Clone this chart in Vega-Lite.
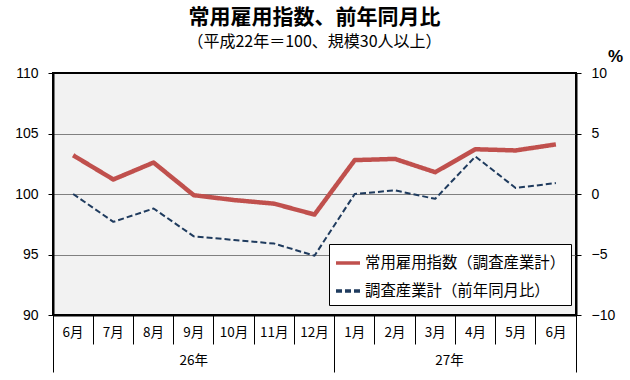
{
  "$schema": "https://vega.github.io/schema/vega-lite/v6.json",
  "autosize": {"type": "none"},
  "padding": {"left": 53, "top": 73, "right": 54, "bottom": 65},
  "width": 523,
  "height": 242,
  "background": "white",
  "title": {
    "text": "常用雇用指数、前年同月比",
    "subtitle": "（平成22年＝100、規模30人以上）",
    "font": "Noto Sans CJK JP",
    "fontSize": 21,
    "fontWeight": "bold",
    "color": "black",
    "subtitleFont": "Noto Sans CJK JP",
    "subtitleFontSize": 16,
    "subtitleColor": "black",
    "subtitlePadding": 6,
    "anchor": "middle",
    "frame": "group",
    "offset": -3
  },
  "data": {
    "values": [
      {"m": "26年6月", "idx": 103.2, "pct": 0.0},
      {"m": "26年7月", "idx": 101.2, "pct": -2.3},
      {"m": "26年8月", "idx": 102.6, "pct": -1.2},
      {"m": "26年9月", "idx": 99.9, "pct": -3.5},
      {"m": "26年10月", "idx": 99.5, "pct": -3.8},
      {"m": "26年11月", "idx": 99.2, "pct": -4.1},
      {"m": "26年12月", "idx": 98.3, "pct": -5.1},
      {"m": "27年1月", "idx": 102.8, "pct": 0.0},
      {"m": "27年2月", "idx": 102.9, "pct": 0.3},
      {"m": "27年3月", "idx": 101.8, "pct": -0.4},
      {"m": "27年4月", "idx": 103.7, "pct": 3.1},
      {"m": "27年5月", "idx": 103.6, "pct": 0.5},
      {"m": "27年6月", "idx": 104.1, "pct": 0.9}
    ]
  },
  "resolve": {"scale": {"y": "independent"}, "axis": {"x": "independent"}},
  "layer": [
    {
      "mark": {"type": "line", "strokeWidth": 4.5, "strokeJoin": "round"},
      "encoding": {
        "x": {
          "field": "m", "type": "ordinal",
          "scale": {"type": "band", "paddingInner": 0, "paddingOuter": 0,
            "domain": ["26年6月","26年7月","26年8月","26年9月","26年10月","26年11月","26年12月","27年1月","27年2月","27年3月","27年4月","27年5月","27年6月"]},
          "axis": {
            "orient": "bottom", "title": null,
            "labelExpr": "datum.value ? slice(datum.value, 3) : ''",
            "bandPosition": 1, "tickExtra": true, "tickSize": 29,
            "tickColor": "black", "tickWidth": 1,
            "domainColor": "black", "domainWidth": 2,
            "labelBaseline": "middle", "labelPadding": -12,
            "labelFont": "Noto Sans CJK JP", "labelFontSize": 13.5, "labelColor": "black",
            "labelAngle": 0, "grid": false
          }
        },
        "y": {
          "field": "idx", "type": "quantitative",
          "scale": {"domain": [90, 110], "nice": false, "zero": false},
          "axis": {
            "orient": "left", "title": null,
            "values": [90, 95, 100, 105, 110],
            "grid": true, "gridColor": "#808080", "gridWidth": 1,
            "gridOpacity": {"condition": {"test": "datum.value == 90 || datum.value == 110", "value": 0}, "value": 1},
            "domainColor": "black", "domainWidth": 2,
            "tickColor": "black", "tickSize": 5, "labelPadding": 10,
            "labelFont": "Liberation Sans", "labelFontSize": 14, "labelColor": "black"
          }
        },
        "color": {
          "datum": "常用雇用指数（調査産業計）", "type": "nominal",
          "scale": {"domain": ["常用雇用指数（調査産業計）", "調査産業計（前年同月比）"], "range": ["#C0504D", "#1F3B5E"]},
          "legend": {"title": null}
        },
        "strokeDash": {
          "datum": "常用雇用指数（調査産業計）", "type": "nominal",
          "scale": {"domain": ["常用雇用指数（調査産業計）", "調査産業計（前年同月比）"], "range": [[1, 0], [6, 3]]},
          "legend": {"title": null}
        }
      }
    },
    {
      "mark": {"type": "line", "strokeWidth": 2, "strokeJoin": "round"},
      "encoding": {
        "x": {
          "field": "m", "type": "ordinal",
          "axis": {
            "orient": "bottom", "title": null,
            "values": ["26年6月", "26年9月", "26年12月", "27年3月", "27年6月"],
            "bandPosition": 1, "tickExtra": true, "tickSize": 57,
            "tickColor": "black", "tickWidth": 1,
            "tickOpacity": {"condition": {"test": "datum.value == '26年6月' || datum.value == '26年9月' || datum.value == '27年3月'", "value": 0}, "value": 1},
            "domain": false, "grid": false,
            "labelExpr": "datum.value == '26年9月' ? '26年' : (datum.value == '27年3月' ? '\u3000\u3000\u2002\u200227年' : '')",
            "labelAlign": {"condition": {"test": "datum.value == '27年3月'", "value": "left"}, "value": "center"},
            "labelBaseline": "middle", "labelPadding": -12,
            "labelFont": "Noto Sans CJK JP", "labelFontSize": 13.5, "labelColor": "black",
            "labelAngle": 0
          }
        },
        "y": {
          "field": "pct", "type": "quantitative",
          "scale": {"domain": [-10, 10], "nice": false, "zero": false},
          "axis": {
            "orient": "right", "title": "%",
            "titleAngle": 0, "titleX": 39, "titleY": -17,
            "titleBaseline": "middle", "titleAlign": "center",
            "titleFont": "Liberation Sans", "titleFontSize": 17, "titleFontWeight": "bold", "titleColor": "black",
            "values": [-10, -5, 0, 5, 10],
            "grid": false,
            "domainColor": "black", "domainWidth": 2,
            "tickColor": "black", "tickSize": 5, "labelPadding": 10,
            "labelFont": "Liberation Sans", "labelFontSize": 14, "labelColor": "black"
          }
        },
        "color": {"datum": "調査産業計（前年同月比）", "type": "nominal"},
        "strokeDash": {"datum": "調査産業計（前年同月比）", "type": "nominal"}
      }
    }
  ],
  "config": {
    "view": {"fill": "#F2F2F2", "stroke": "black", "strokeWidth": 2},
    "legend": {
      "orient": "none", "legendX": 276, "legendY": 171,
      "fillColor": "white", "strokeColor": "black", "strokeWidth": 1,
      "padding": 5, "symbolType": "stroke", "symbolSize": 576, "symbolStrokeWidth": 3.5,
      "labelFont": "Noto Sans CJK JP", "labelFontSize": 15.4, "labelColor": "black",
      "labelLimit": 400, "labelOffset": 3, "rowPadding": 5
    }
  }
}
